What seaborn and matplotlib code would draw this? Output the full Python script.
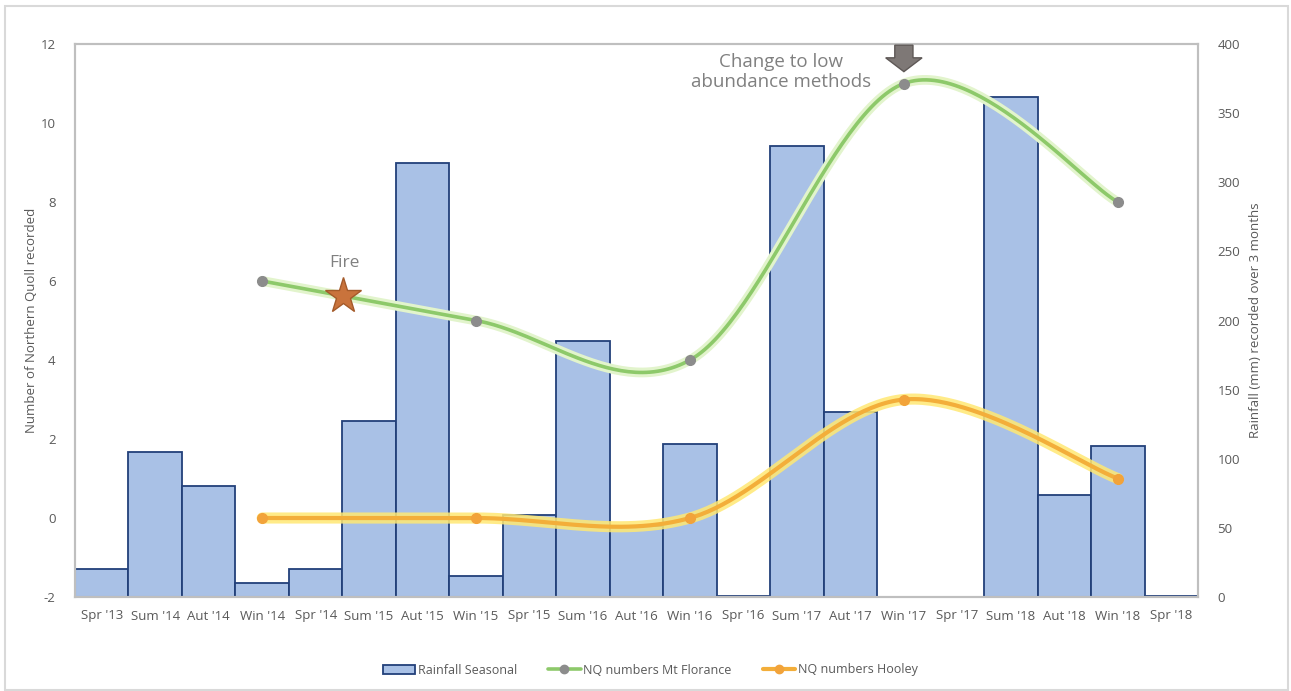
import numpy as np
import matplotlib
matplotlib.use("Agg")
import matplotlib.pyplot as plt
import seaborn as sns
from matplotlib.patches import Patch, Rectangle, Polygon
from matplotlib.lines import Line2D

# ---------------- data ----------------
categories = ["Spr '13", "Sum '14", "Aut '14", "Win '14", "Spr '14", "Sum '15", "Aut '15",
              "Win '15", "Spr '15", "Sum '16", "Aut '16", "Win '16", "Spr '16", "Sum '17",
              "Aut '17", "Win '17", "Spr '17", "Sum '18", "Aut '18", "Win '18", "Spr '18"]
rainfall = [20, 105, 80, 10, 20, 127, 314, 15, 59, 185, 51, 111, 1, 326, 134, 0, 0, 362, 74, 109, 1]
survey_labels = ["Win '14", "Win '15", "Win '16", "Win '17", "Win '18"]
mt_florance = [6, 5, 4, 11, 8]
hooley = [0, 0, 0, 3, 1]
left_ticks = [-2, 0, 2, 4, 6, 8, 10, 12]
right_ticks = [0, 50, 100, 150, 200, 250, 300, 350, 400]

# ---------------- style ----------------
sns.set_style("white")
plt.rcParams['font.family'] = ['Open Sans', 'DejaVu Sans']
plt.rcParams['axes.unicode_minus'] = False

TXT = "#595959"
BAR_FILL = "#A9C1E6"
BAR_EDGE = "#22407A"
GREEN = "#8DC96A"
GREEN_GLOW = "#E2F4CC"
ORANGE = "#F3AE3A"
ORANGE_GLOW = "#FFE873"


def catmull_rom(xs, ys, n=60):
    xs = np.asarray(xs, float)
    ys = np.asarray(ys, float)
    P = np.column_stack([xs, ys])
    P = np.vstack([P[0], P, P[-1]])
    out = []
    for i in range(1, len(P) - 2):
        p0, p1, p2, p3 = P[i - 1], P[i], P[i + 1], P[i + 2]
        m1 = (p2 - p0) / 2.0
        m2 = (p3 - p1) / 2.0
        t = np.linspace(0, 1, n)[:, None]
        h00 = 2 * t**3 - 3 * t**2 + 1
        h10 = t**3 - 2 * t**2 + t
        h01 = -2 * t**3 + 3 * t**2
        h11 = t**3 - t**2
        seg = h00 * p1 + h10 * m1 + h01 * p2 + h11 * m2
        out.append(seg if i == 1 else seg[1:])
    out = np.vstack(out)
    return out[:, 0], out[:, 1]


fig = plt.figure(figsize=(12.91, 6.91), dpi=100)
ax = fig.add_axes([75 / 1291, 1 - 597 / 691, (1198 - 75) / 1291, (597 - 44) / 691])
ax2 = ax.twinx()

# bars on the rainfall (right) axis
sns.barplot(x=categories, y=rainfall, ax=ax2, color=BAR_FILL, saturation=1,
            width=1.0, edgecolor=BAR_EDGE, linewidth=1.3)
ax2.set_ylim(0, 400)
ax2.set_yticks(right_ticks)
ax2.set_ylabel("Rainfall (mm) recorded over 3 months", color=TXT, fontsize=9.5, labelpad=6)
ax2.tick_params(axis='y', length=0, pad=14, labelsize=9.5, labelcolor=TXT)

# lines on the count (left) axis, drawn above bars
ax.set_zorder(ax2.get_zorder() + 1)
ax.patch.set_visible(False)

xpos = [categories.index(s) for s in survey_labels]
sx, sy = catmull_rom(xpos, mt_florance)
ax.plot(sx, sy, color=GREEN_GLOW, lw=7, solid_capstyle='round', zorder=2)
ax.plot(sx, sy, color=GREEN, lw=2.6, zorder=3)
ax.plot(xpos, mt_florance, 'o', color="#8C8C8C", ms=7, zorder=4)

hx, hy = catmull_rom(xpos, hooley)
ax.plot(hx, hy, color=ORANGE_GLOW, lw=8, solid_capstyle='round', alpha=0.85, zorder=2)
ax.plot(hx, hy, color=ORANGE, lw=3, zorder=3)
ax.plot(xpos, hooley, 'o', color="#F2A33A", ms=7, zorder=4)

ax.set_xlim(-0.5, len(categories) - 0.5)
ax2.set_xlim(-0.5, len(categories) - 0.5)
ax.set_ylim(-2, 12)
ax.set_yticks(left_ticks)
ax.set_xticks(range(len(categories)))
ax.set_xticklabels(categories)
ax.tick_params(axis='x', length=0, pad=9, labelsize=9.5, labelcolor=TXT)
ax.tick_params(axis='y', length=0, pad=14, labelsize=9.5, labelcolor=TXT)
ax.set_ylabel("Number of Northern Quoll recorded", color=TXT, fontsize=9.5, labelpad=2)
ax.set_xlabel("")
ax2.set_xlabel("")

for a in (ax, ax2):
    for s in a.spines.values():
        s.set_color("#BFBFBF")
        s.set_linewidth(1.5)

# annotations
ax.text(4.53, 6.45, "Fire", ha='center', va='center', fontsize=12.5, color="#808080")
ax.plot([4.51], [5.62], marker='*', ms=27, color="#C9733C", mec="#A45A2A", mew=1, zorder=5)

ax.text(12.7, 11.3, "Change to low\nabundance methods", ha='center', va='center',
        fontsize=13.5, color="#808080", linespacing=1.15)
ax_x = 15
arrow = Polygon([[ax_x - 0.17, 11.97], [ax_x + 0.17, 11.97], [ax_x + 0.17, 11.65],
                 [ax_x + 0.34, 11.65], [ax_x, 11.30], [ax_x - 0.34, 11.65],
                 [ax_x - 0.17, 11.65]], closed=True, facecolor="#7E7876",
                edgecolor="#5E5856", lw=1, clip_on=False, zorder=6)
ax.add_patch(arrow)

# legend
handles = [Patch(facecolor=BAR_FILL, edgecolor=BAR_EDGE, lw=1.3),
           Line2D([], [], color=GREEN, lw=2.6, marker='o', mfc="#8C8C8C", mec="#8C8C8C", ms=6),
           Line2D([], [], color=ORANGE, lw=3, marker='o', mfc="#F2A33A", mec="#F2A33A", ms=6)]
labels = ["Rainfall Seasonal", "NQ numbers Mt Florance", "NQ numbers Hooley"]
fig.legend(handles, labels, loc='center', bbox_to_anchor=(650 / 1291, 1 - 670 / 691),
           ncol=3, frameon=False, fontsize=9, labelcolor=TXT, handlelength=2.6,
           handletextpad=0.2, columnspacing=2.5)

# outer chart border
fig.patches.append(Rectangle((5 / 1291, 1 / 691), 1283 / 1291, 684 / 691, transform=fig.transFigure,
                             fill=False, edgecolor="#D9D9D9", lw=1.5))

fig.savefig("out.png", dpi=100)
